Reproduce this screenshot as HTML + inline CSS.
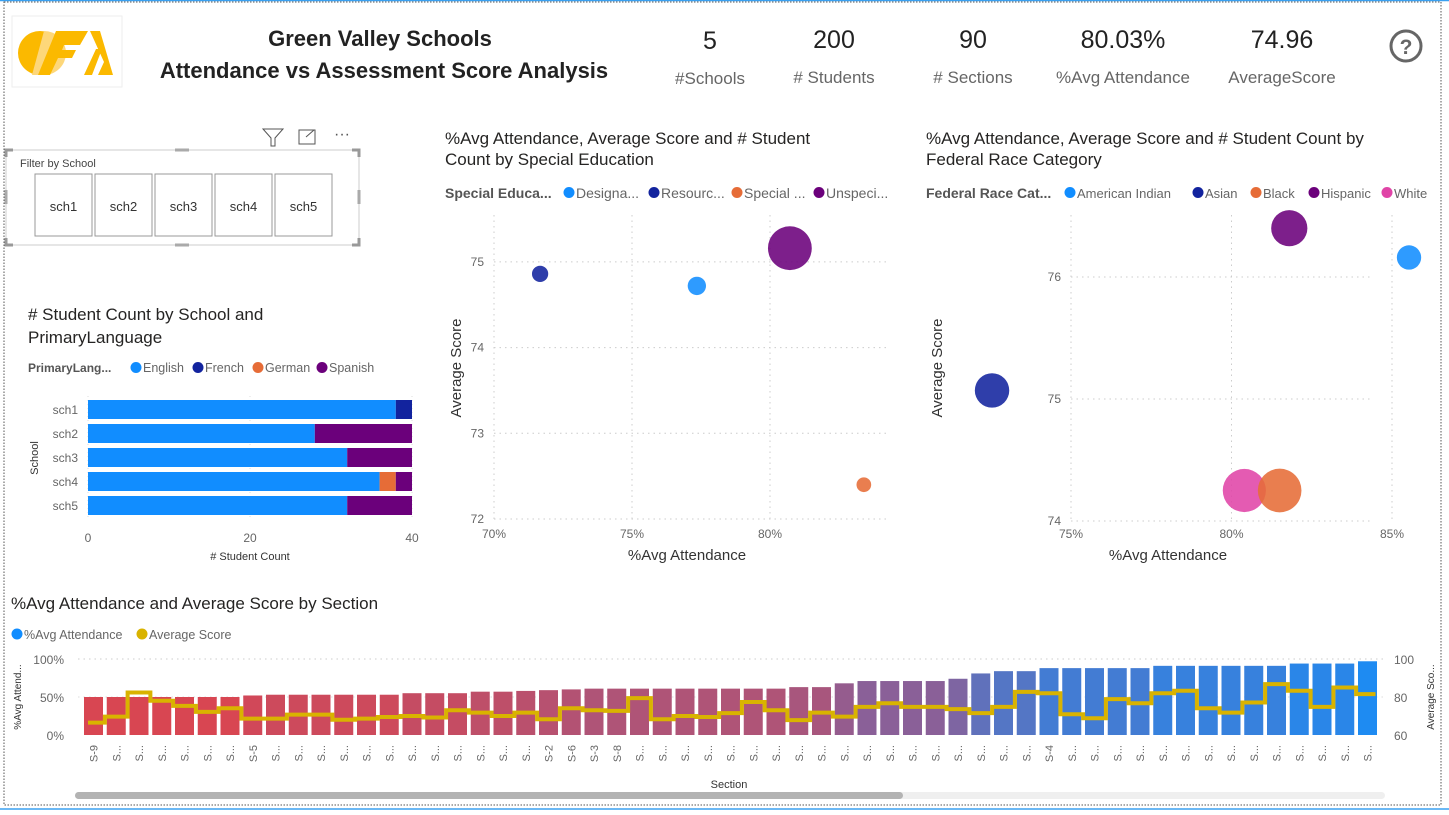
<!DOCTYPE html>
<html><head><meta charset="utf-8"><style>
html,body{margin:0;padding:0;background:#fff;}
body{width:1449px;height:810px;overflow:hidden;font-family:"Liberation Sans",sans-serif;}
svg text{font-family:"Liberation Sans",sans-serif;}
</style></head><body>
<svg id="root" width="1449" height="810" viewBox="0 0 1449 810" xmlns="http://www.w3.org/2000/svg">
<rect x="0" y="0" width="1449" height="810" fill="#fff"/>
<line x1="0" y1="0.5" x2="1449" y2="0.5" stroke="#3aa0f0" stroke-width="1.5"/>
<line x1="0" y1="809" x2="1449" y2="809" stroke="#3aa0f0" stroke-width="1.5"/>
<rect x="4" y="2" width="1437" height="803" fill="none" stroke="#555" stroke-dasharray="1.5,1.5" stroke-width="1"/>

<g>
<rect x="12" y="16" width="110" height="71" fill="#fff" stroke="#eee"/>
<circle cx="40" cy="53" r="22" fill="#fbb900"/>
<path d="M44 31 A22 22 0 0 1 44 75 L32 75 Z" fill="#fdd77a"/>
<path d="M56 31 L88 31 L80 45 L64 45 L62 50 L76 50 L72 58 L58 58 L50 75 L38 75 Z" fill="#fbb900"/>
<path d="M84 75 L96 49 L102 49 L92 75 Z M90 31 L100 31 L113 75 L98 75 L104 62 Z" fill="#fbb900"/>
</g>

<text x="380" y="46" text-anchor="middle" font-size="22" font-weight="bold" fill="#222">Green Valley Schools</text>
<text x="384" y="78" text-anchor="middle" font-size="22" font-weight="bold" fill="#222">Attendance vs Assessment Score Analysis</text>

<g>
<text x="710" y="49" text-anchor="middle" font-size="25" fill="#222">5</text>
<text x="710" y="84" text-anchor="middle" font-size="17" fill="#666">#Schools</text>
<text x="834" y="48" text-anchor="middle" font-size="25" fill="#222">200</text>
<text x="834" y="83" text-anchor="middle" font-size="17" fill="#666"># Students</text>
<text x="973" y="48" text-anchor="middle" font-size="25" fill="#222">90</text>
<text x="973" y="83" text-anchor="middle" font-size="17" fill="#666"># Sections</text>
<text x="1123" y="48" text-anchor="middle" font-size="25" fill="#222">80.03%</text>
<text x="1123" y="83" text-anchor="middle" font-size="17" fill="#666">%Avg Attendance</text>
<text x="1282" y="48" text-anchor="middle" font-size="25" fill="#222">74.96</text>
<text x="1282" y="83" text-anchor="middle" font-size="17" fill="#666">AverageScore</text>
</g>
<g>
<circle cx="1406" cy="46" r="15" fill="none" stroke="#666" stroke-width="3"/>
<text x="1406" y="54" text-anchor="middle" font-size="21" font-weight="bold" fill="#666">?</text>
</g>

<g>
<g><path d="M263 129 L283 129 L275 138 L275 146 L271 146 L271 138 Z" fill="none" stroke="#555"/></g>
<g><rect x="299" y="130" width="16" height="14" fill="none" stroke="#555"/><path d="M306 137 L314 130 M310 130 L315 130 L315 135" stroke="#555" fill="none"/></g>
<text x="342" y="139" text-anchor="middle" font-size="16" fill="#555">···</text>
<rect x="6" y="150" width="353" height="95" fill="#fff" stroke="#ccc"/>
<text x="20" y="167" font-size="11" fill="#444">Filter by School</text>
<g id="slicerBtns"></g>
</g>

<g id="barChart"></g>
<g id="scatter1"></g>
<g id="scatter2"></g>
<g id="combo"></g>
</svg>
<script>
// ---------- Bar chart data ----------
const schools = ["sch1","sch2","sch3","sch4","sch5"];
const languages = ["English","French","German","Spanish"];
const englishCounts = [38,28,32,36,32];
const frenchCounts = [2,0,0,0,0];
const germanCounts = [0,0,0,2,0];
const spanishCounts = [0,12,8,2,8];
const barTicks = [0,20,40];

// ---------- Scatter 1 data ----------
const sped = ["Designa...","Resourc...","Special ...","Unspeci..."];
const spedAttendance = [77.35,71.67,83.4,80.72];
const spedScore = [74.72,74.86,72.4,75.16];
const spedCount = [14,11,9,80];
const s1XTicks = [70,75,80];
const s1YTicks = [72,73,74,75];

// ---------- Scatter 2 data ----------
const race = ["American Indian","Asian","Black","Hispanic","White"];
const raceAttendance = [85.53,72.54,81.5,81.8,80.4];
const raceScore = [76.16,75.07,74.25,76.4,74.25];
const raceCount = [28,56,90,62,88];
const s2XTicks = [75,80,85];
const s2YTicks = [74,75,76];

// ---------- Combo chart data ----------
const sectionLabels = ["S-9","S...","S...","S...","S...","S...","S...","S-5","S...","S...","S...","S...","S...","S...","S...","S...","S...","S...","S...","S...","S-2","S-6","S-3","S-8","S...","S...","S...","S...","S...","S...","S...","S...","S...","S...","S...","S...","S...","S...","S...","S...","S...","S...","S-4","S...","S...","S...","S...","S...","S...","S...","S...","S...","S...","S...","S...","S...","S..."];
const attendanceValues = [50,50,50,50,50,50,50,52,53,53,53,53,53,53,55,55,55,57,57,58,59,60,61,61,61,61,61,61,61,61,61,63,63,68,71,71,71,71,74,81,84,84,88,88,88,88,88,91,91,91,91,91,91,94,94,94,97];
const scoreValues = [66.5,69.7,82.4,78,75.3,72.2,74.1,68.6,68.6,70.7,70.7,68,68.6,69.5,70,69.2,73,71.8,70,71.8,68.3,74.1,73,72.7,79.4,68.3,70,69.5,71.5,77.4,73,67.8,71.8,69.7,74.8,76.7,74.8,74.8,73.6,71.5,74.8,82.7,82,70.9,68.8,78.9,76.7,82,83.3,74.1,71.8,77.1,86.8,83.3,74.8,85,81.5];
const leftTicks = [0,50,100];
const rightTicks = [60,80,100];

const NS="http://www.w3.org/2000/svg";
function mk(parent,tag,attrs,text){const e=document.createElementNS(NS,tag);for(const k in attrs)e.setAttribute(k,attrs[k]);if(text!==undefined)e.textContent=text;parent.appendChild(e);return e;}

// slicer buttons
(function(){
  const g=document.getElementById('slicerBtns');
  schools.forEach((s,i)=>{
    const b=mk(g,'g',{});
    
    
    mk(b,'rect',{x:35+i*60,y:174,width:57,height:62,fill:'#fff',stroke:'#999','stroke-width':1});
    mk(b,'text',{x:63.5+i*60,y:211,'text-anchor':'middle','font-size':13,fill:'#333'},s);
  });
  const h=document.getElementById('slicerBtns').parentNode;
  [[6,150],[359,150],[6,245],[359,245]].forEach(p=>{mk(h,'path',{d:`M${p[0]} ${p[1]+(p[1]<200?7:-7)} L${p[0]} ${p[1]} L${p[0]+(p[0]<100?7:-7)} ${p[1]}`,stroke:'#999','stroke-width':3,fill:'none'});});
  [[182,150],[182,245]].forEach(p=>mk(h,'rect',{x:p[0]-7,y:p[1]-1.5,width:14,height:3,fill:'#aaa'}));
  [[6,197],[359,197]].forEach(p=>mk(h,'rect',{x:p[0]-1.5,y:p[1]-7,width:3,height:14,fill:'#aaa'}));
})();

// bar chart
(function(){
  const g=document.getElementById('barChart');
  const x=v=>88+v*(412-88)/40;
  const yTop=i=>400+i*24;
  mk(g,'text',{x:28,y:320,'font-size':17,fill:'#252423'},'# Student Count by School and');
  mk(g,'text',{x:28,y:343,'font-size':17,fill:'#252423'},'PrimaryLanguage');
  const colors=['#118dff','#12239e','#e66c37','#6b007b'];
  mk(g,'text',{x:28,y:372,'font-size':12,'font-weight':'bold',fill:'#555'},'PrimaryLang...');
  const lx=[136,198,258,322];
  languages.forEach((l,i)=>{
    const le=mk(g,'g',{});
    
    
    mk(le,'circle',{cx:lx[i],cy:367.5,r:5.5,fill:colors[i]});
    mk(le,'text',{x:lx[i]+7,y:372,'font-size':12.5,fill:'#666'},l);
  });
  barTicks.forEach(t=>{
    mk(g,'line',{x1:x(t),y1:396,x2:x(t),y2:518,stroke:'#ddd','stroke-dasharray':'1,3'});
    mk(g,'text',{x:x(t),y:542,'text-anchor':'middle','font-size':12,fill:'#666'},String(t));
  });
  const series=[englishCounts,frenchCounts,germanCounts,spanishCounts];
  schools.forEach((s,i)=>{
    mk(g,'text',{x:78,y:yTop(i)+14,'text-anchor':'end','font-size':12,fill:'#666'},s);
    let acc=0;
    series.forEach((arr,k)=>{
      if(arr[i]>0){
        const r=mk(g,'rect',{x:x(acc),y:yTop(i),width:x(acc+arr[i])-x(acc),height:19,fill:colors[k]});
        
        
      }
      acc+=arr[i];
    });
  });
  mk(g,'text',{x:250,y:560,'text-anchor':'middle','font-size':11,fill:'#333'},'# Student Count');
  mk(g,'text',{x:38,y:458,'text-anchor':'middle','font-size':11,fill:'#333',transform:'rotate(-90 38 458)'},'School');
})();

function scatter(gid,ox,titleLines,legTitle,cats,colors,legX,legFs,xs,ys,cnts,xT,yT,xf,yf,rf,order){
  const g=document.getElementById(gid);
  titleLines.forEach((t,i)=>mk(g,'text',{x:ox,y:144+i*21,'font-size':17,fill:'#252423'},t));
  mk(g,'text',{x:ox,y:198,'font-size':14,'font-weight':'bold',fill:'#555'},legTitle);
  cats.forEach((c,i)=>{
    const le=mk(g,'g',{});
    
    
    mk(le,'circle',{cx:legX[i],cy:192.5,r:5.5,fill:colors[i]});
    mk(le,'text',{x:legX[i]+7,y:198,'font-size':legFs,fill:'#666'},c);
  });
  const xs0=xf(xT[0]);
  xT.forEach(t=>{
    mk(g,'line',{x1:xf(t),y1:215,x2:xf(t),y2:520,stroke:'#ccc','stroke-dasharray':'1.5,4'});
    mk(g,'text',{x:xf(t),y:538,'text-anchor':'middle','font-size':12,fill:'#666'},t+'%');
  });
  yT.forEach(t=>{
    mk(g,'line',{x1:xs0,y1:yf(t),x2:ox+445,y2:yf(t),stroke:'#ccc','stroke-dasharray':'1.5,4'});
    mk(g,'text',{x:xs0-10,y:yf(t)+4,'text-anchor':'end','font-size':12,fill:'#666'},String(t));
  });
  mk(g,'text',{x:ox+242,y:560,'text-anchor':'middle','font-size':15,fill:'#333'},'%Avg Attendance');
  mk(g,'text',{x:ox+16,y:368,'text-anchor':'middle','font-size':15,fill:'#333',transform:`rotate(-90 ${ox+16} 368)`},'Average Score');
  order.forEach(i=>{
    const c=mk(g,'circle',{cx:xf(xs[i]),cy:yf(ys[i]),r:rf(cnts[i]),fill:colors[i],'fill-opacity':0.88});
    
    
  });
}
scatter('scatter1',445,['%Avg Attendance, Average Score and # Student','Count by Special Education'],'Special Educa...',
  sped,['#118dff','#12239e','#e66c37','#6b007b'],[569,654,737,819],14,
  spedAttendance,spedScore,spedCount,s1XTicks,s1YTicks,
  v=>494+(v-70)*27.6, v=>519-(v-72)*85.7, c=>Math.sqrt(c)*2.45,[0,1,2,3]);
scatter('scatter2',926,['%Avg Attendance, Average Score and # Student Count by','Federal Race Category'],'Federal Race Cat...',
  race,['#118dff','#12239e','#e66c37','#6b007b','#e044a7'],[1070,1198,1256,1314,1387],13,
  raceAttendance,raceScore,raceCount,s2XTicks,s2YTicks,
  v=>1071+(v-75)*32.1, v=>521-(v-74)*122, c=>Math.sqrt(c)*2.3,[0,1,3,4,2]);

// combo chart
(function(){
  const g=document.getElementById('combo');
  mk(g,'text',{x:11,y:609,'font-size':17,fill:'#252423'},'%Avg Attendance and Average Score by Section');
  const l1=mk(g,'g',{});
  
  
  mk(l1,'circle',{cx:17,cy:634,r:5.5,fill:'#118dff'});
  mk(l1,'text',{x:24,y:639,'font-size':12.5,fill:'#666'},'%Avg Attendance');
  const l2=mk(g,'g',{});
  
  
  mk(l2,'circle',{cx:142,cy:634,r:5.5,fill:'#d9b300'});
  mk(l2,'text',{x:149,y:639,'font-size':12.5,fill:'#666'},'Average Score');
  const pitch=22.75, bw=19, x0=84;
  const yl=v=>735-v*0.76;
  const yr=v=>735-(v-60)*1.9;
  mk(g,'line',{x1:78,y1:659,x2:1385,y2:659,stroke:'#ccc','stroke-dasharray':'1.5,4'});
  mk(g,'line',{x1:78,y1:697,x2:1385,y2:697,stroke:'#ddd','stroke-dasharray':'1.5,4'});
  leftTicks.forEach(t=>mk(g,'text',{x:64,y:yl(t)+5,'text-anchor':'end','font-size':12,fill:'#666'},t+'%'));
  rightTicks.forEach(t=>mk(g,'text',{x:1394,y:yr(t)+5,'font-size':12,fill:'#666'},String(t)));
  mk(g,'text',{x:21,y:697,'text-anchor':'middle','font-size':10,fill:'#333',transform:'rotate(-90 21 697)'},'%Avg Attend...');
  mk(g,'text',{x:1434,y:697,'text-anchor':'middle','font-size':10,fill:'#333',transform:'rotate(-90 1434 697)'},'Average Sco...');
  function col(v){
    const stops=[[50,[216,70,82]],[71,[138,96,152]],[97,[30,139,242]]];
    let a=stops[0],b=stops[1];
    if(v>71){a=stops[1];b=stops[2];}
    const t=Math.max(0,Math.min(1,(v-a[0])/(b[0]-a[0])));
    const c=a[1].map((q,i)=>Math.round(q+(b[1][i]-q)*t));
    return `rgb(${c[0]},${c[1]},${c[2]})`;
  }
  attendanceValues.forEach((v,i)=>{
    const bx=x0+i*pitch;
    const r=mk(g,'rect',{x:bx,y:yl(v),width:bw,height:735-yl(v),fill:col(v)});
    
    
    const cx=bx+bw/2+4;
    mk(g,'text',{x:cx,y:745,'text-anchor':'end','font-size':11,fill:'#666',transform:`rotate(-90 ${cx} 745)`},sectionLabels[i]);
  });
  let d='';
  scoreValues.forEach((v,i)=>{
    const bx=x0+i*pitch;
    const xa=i===0?bx+4:bx-(pitch-bw)/2;
    const xb=i===scoreValues.length-1?bx+bw/2+8:bx+bw+(pitch-bw)/2;
    d+=(i===0?'M':'L')+xa+' '+yr(v)+' L'+xb+' '+yr(v)+' ';
  });
  const ln=mk(g,'path',{d:d,fill:'none',stroke:'#d9b300','stroke-width':4,'stroke-linejoin':'miter'});
  
  
  mk(g,'text',{x:729,y:788,'text-anchor':'middle','font-size':11,fill:'#333'},'Section');
  const tr=mk(g,'rect',{x:75,y:792,width:1310,height:7,rx:3.5,fill:'#efefef'});
  
  
  const th=mk(g,'rect',{x:75,y:792,width:828,height:7,rx:3.5,fill:'#b3b3b3'});
  
  
})();
</script>
</body></html>
